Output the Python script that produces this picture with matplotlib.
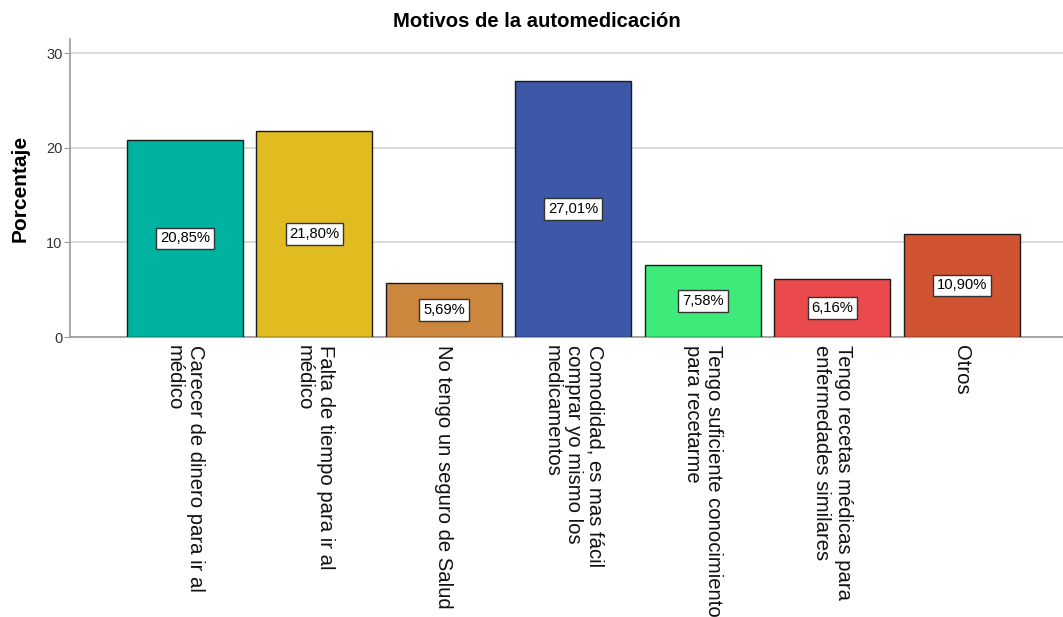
import matplotlib.pyplot as plt
import matplotlib.ticker as mtick

# ==========================================================
# 1. Data
# ==========================================================
categories = [
    "Carecer de dinero para ir al\nmédico",
    "Falta de tiempo para ir al\nmédico",
    "No tengo un seguro de Salud",
    "Comodidad, es mas fácil\ncomprar yo mismo los\nmedicamentos",
    "Tengo suficiente conocimiento\npara recetarme",
    "Tengo recetas médicas para\nenfermedades similares",
    "Otros",
]
percentages = [20.85, 21.80, 5.69, 27.01, 7.58, 6.16, 10.90]
value_labels = ["20,85%", "21,80%", "5,69%", "27,01%", "7,58%", "6,16%", "10,90%"]
y_ticks = [0, 10, 20, 30]

bar_colors = [
    "#00B2A0",  # teal
    "#E0BC20",  # yellow
    "#CD863E",  # orange
    "#3E58A8",  # blue
    "#3EEA7A",  # green
    "#EA4A4C",  # red
    "#D05432",  # dark orange
]

plt.rcParams["font.family"] = ["Liberation Sans", "DejaVu Sans"]

# ==========================================================
# 2. Figure
# ==========================================================
fig = plt.figure(figsize=(10.63, 6.17), dpi=100)
ax = fig.add_axes([0.0659, 0.4538, 0.934, 0.483])

x = list(range(len(categories)))
bars = ax.bar(
    x,
    percentages,
    width=0.895,
    color=bar_colors,
    edgecolor="#1a1a1a",
    linewidth=1.0,
    zorder=3,
)

# value labels in white boxes at mid-height
for xi, val, lab in zip(x, percentages, value_labels):
    ax.text(
        xi,
        val / 2,
        lab,
        ha="center",
        va="center",
        fontsize=10.6,
        color="black",
        zorder=4,
        bbox=dict(facecolor="white", edgecolor="#333333", linewidth=1.0, pad=2.8),
    )

# ==========================================================
# 3. Axes styling
# ==========================================================
ax.set_xlim(-0.887, 6.78)
ax.set_ylim(0, 31.5)
ax.yaxis.set_major_locator(mtick.FixedLocator(y_ticks))
ax.grid(axis="y", color="#d4d4d4", linewidth=1.2, zorder=0)

for side in ["top", "right"]:
    ax.spines[side].set_visible(False)
ax.spines["left"].set_color("#9a9a9a")
ax.spines["bottom"].set_color("#9a9a9a")
ax.spines["left"].set_linewidth(1.2)
ax.spines["bottom"].set_linewidth(1.2)

ax.tick_params(axis="y", labelsize=10.5, length=4, pad=1.5,
               color="#9a9a9a", labelcolor="#333333")
ax.tick_params(axis="x", length=0, pad=6)

ax.set_xticks(x)
ax.set_xticklabels(
    categories,
    rotation=-90,
    ha="center",
    va="top",
    multialignment="left",
    fontsize=14.6,
    linespacing=1.15,
    color="#111111",
)

ax.set_ylabel("Porcentaje", fontsize=15, fontweight="bold", labelpad=12)
fig.text(0.505, 0.965, "Motivos de la automedicación", ha="center", va="center",
         fontsize=14.6, fontweight="bold")

fig.savefig("out.png", dpi=100, facecolor="white")
